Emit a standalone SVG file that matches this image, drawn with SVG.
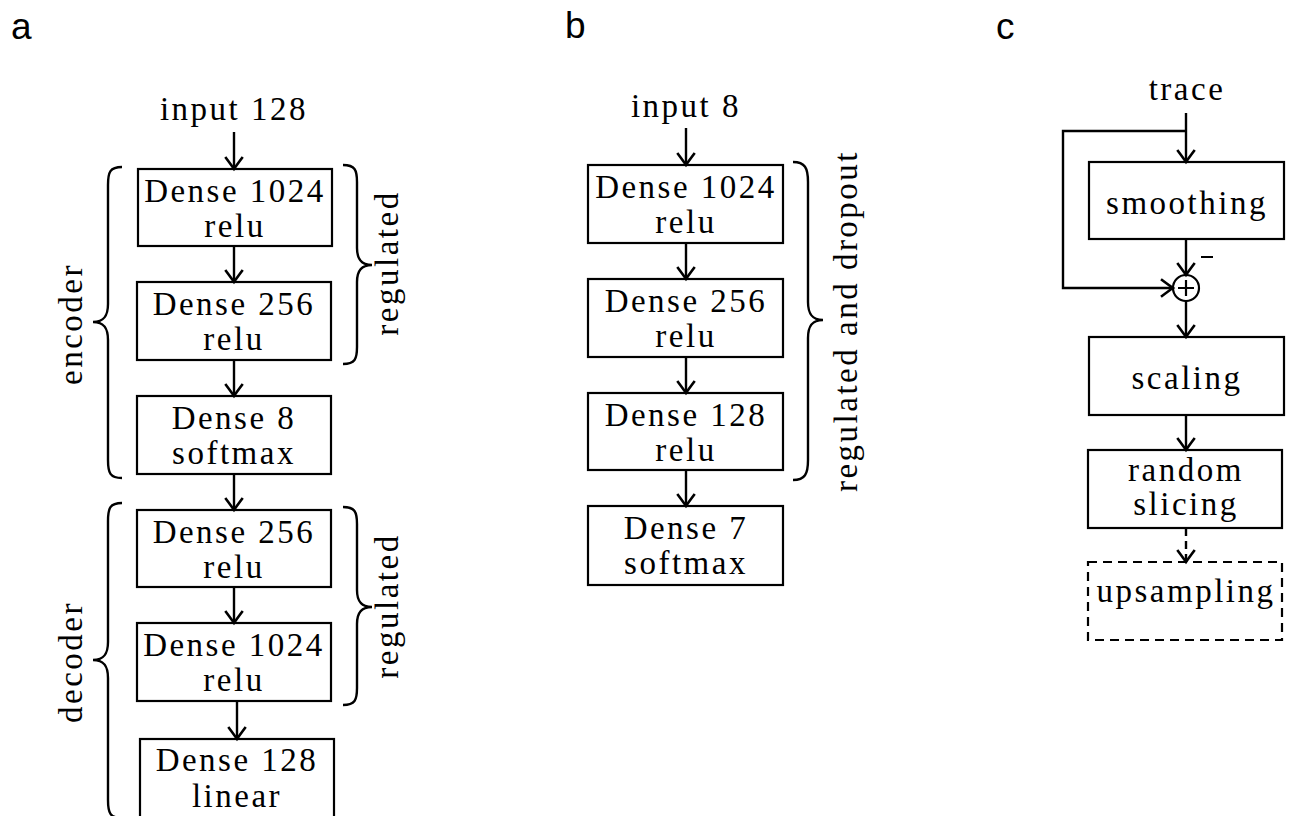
<svg xmlns="http://www.w3.org/2000/svg" width="1290" height="816" viewBox="0 0 1290 816">
<defs>
<marker id="ah" markerUnits="userSpaceOnUse" markerWidth="24" markerHeight="24" viewBox="-13 -11 16 22" refX="0" refY="0" orient="auto">
<path d="M-11,-8 Q-3,-2 0,0 Q-3,2 -11,8" fill="none" stroke="#000" stroke-width="2.4"/>
</marker>
<style>
.bx{fill:#fff;stroke:#000;stroke-width:2.2}
.dbx{fill:none;stroke:#000;stroke-width:2.2;stroke-dasharray:9 6}
.t{font-family:"Liberation Serif","Times New Roman",serif;font-size:33px;letter-spacing:2.5px;text-anchor:middle;fill:#000}
.lab{font-family:"Liberation Sans",Arial,sans-serif;font-size:37px;fill:#000}
.c{fill:none;stroke:#000;stroke-width:2.2}
.ar{fill:none;stroke:#000;stroke-width:2.4;marker-end:url(#ah)}
.br{fill:none;stroke:#000;stroke-width:2.4}
</style>
</defs>
<rect width="1290" height="816" fill="#fff"/>

<g id="labels">
<text class="lab" x="11" y="39">a</text>
<text class="lab" x="565" y="38">b</text>
<text class="lab" x="996" y="39">c</text>
</g>

<!-- Panel a -->
<g id="a-input"><text class="t" x="234" y="120">input 128</text></g>
<g id="a-enc1"><rect class="bx" x="138" y="169" width="194" height="77"/><text class="t" x="235" y="202">Dense 1024</text><text class="t" x="235" y="237">relu</text></g>
<g id="a-enc2"><rect class="bx" x="137" y="282" width="194" height="78"/><text class="t" x="234" y="315">Dense 256</text><text class="t" x="234" y="350">relu</text></g>
<g id="a-enc3"><rect class="bx" x="137" y="396" width="194" height="78"/><text class="t" x="234" y="429">Dense 8</text><text class="t" x="234" y="464">softmax</text></g>
<g id="a-dec1"><rect class="bx" x="137" y="510" width="194" height="77"/><text class="t" x="234" y="543">Dense 256</text><text class="t" x="234" y="578">relu</text></g>
<g id="a-dec2"><rect class="bx" x="137" y="623" width="194" height="78"/><text class="t" x="234" y="656">Dense 1024</text><text class="t" x="234" y="691">relu</text></g>
<g id="a-dec3"><rect class="bx" x="140" y="739" width="194" height="90"/><text class="t" x="237" y="771">Dense 128</text><text class="t" x="237" y="807">linear</text></g>

<g id="a-braces">
<path class="br" d="M122,167 C110,167 108,172 108,185 L108,304 C108,316 104,322 93,322 C104,322 108,328 108,340 L108,460 C108,473 110,478 122,478"/>
<text class="t" transform="translate(82,324) rotate(-90)" x="0" y="0">encoder</text>
<path class="br" d="M122,503 C110,503 108,508 108,521 L108,642 C108,654 104,660 93,660 C104,660 108,666 108,678 L108,800 C108,813 110,818 122,818"/>
<text class="t" transform="translate(82,662) rotate(-90)" x="0" y="0">decoder</text>
<path class="br" d="M343,165 C355,165 357,170 357,182 L357,248 C357,259 361,265 372,265 C361,265 357,271 357,282 L357,347 C357,359 355,364 343,364"/>
<text class="t" transform="translate(398,263) rotate(-90)" x="0" y="0">regulated</text>
<path class="br" d="M343,507 C355,507 357,512 357,524 L357,590 C357,601 361,607 372,607 C361,607 357,613 357,624 L357,688 C357,700 355,705 343,705"/>
<text class="t" transform="translate(398,606) rotate(-90)" x="0" y="0">regulated</text>
</g>

<!-- Panel b -->
<g id="b-input"><text class="t" x="686" y="117">input 8</text></g>
<g id="b-1"><rect class="bx" x="588" y="165" width="195" height="78"/><text class="t" x="686" y="198">Dense 1024</text><text class="t" x="686" y="233">relu</text></g>
<g id="b-2"><rect class="bx" x="588" y="279" width="195" height="78"/><text class="t" x="686" y="312">Dense 256</text><text class="t" x="686" y="347">relu</text></g>
<g id="b-3"><rect class="bx" x="588" y="393" width="195" height="77"/><text class="t" x="686" y="426">Dense 128</text><text class="t" x="686" y="461">relu</text></g>
<g id="b-4"><rect class="bx" x="588" y="506" width="195" height="79"/><text class="t" x="686" y="539">Dense 7</text><text class="t" x="686" y="574">softmax</text></g>
<g id="b-brace">
<path class="br" d="M793,162 C805,162 808,168 808,182 L808,302 C808,314 812,320 823,320 C812,320 808,326 808,338 L808,460 C808,474 805,480 793,480"/>
<text class="t" transform="translate(857,321) rotate(-90)" x="0" y="0">regulated and dropout</text>
</g>

<!-- Panel c -->
<g id="c-trace"><text class="t" x="1187" y="100">trace</text></g>
<g id="c-smoothing"><rect class="bx" x="1089" y="162" width="195" height="77"/><text class="t" x="1187" y="214">smoothing</text></g>
<g id="c-sum"><circle class="c" cx="1186" cy="288" r="13"/><path class="c" d="M1186,280 V296 M1178,288 H1194"/></g>
<g id="c-scaling"><rect class="bx" x="1089" y="337" width="195" height="78"/><text class="t" x="1187" y="389">scaling</text></g>
<g id="c-slicing"><rect class="bx" x="1088" y="450" width="194" height="78"/><text class="t" x="1186" y="481">random</text><text class="t" x="1186" y="515">slicing</text></g>
<g id="c-upsampling"><rect class="dbx" x="1088" y="562" width="194" height="78"/><text class="t" x="1186" y="602">upsampling</text></g>
<g id="c-minus"><line x1="1201" y1="257" x2="1213" y2="257" stroke="#000" stroke-width="2"/></g>

<!-- connectors -->
<g id="connectors">
<line class="ar" x1="234" y1="132" x2="234" y2="169"/>
<line class="ar" x1="234" y1="246" x2="234" y2="282"/>
<line class="ar" x1="234" y1="360" x2="234" y2="396"/>
<line class="ar" x1="234" y1="474" x2="234" y2="510"/>
<line class="ar" x1="234" y1="587" x2="234" y2="623"/>
<line class="ar" x1="237" y1="701" x2="237" y2="739"/>

<line class="ar" x1="686" y1="128" x2="686" y2="165"/>
<line class="ar" x1="686" y1="243" x2="686" y2="279"/>
<line class="ar" x1="686" y1="357" x2="686" y2="393"/>
<line class="ar" x1="686" y1="470" x2="686" y2="506"/>

<line class="ar" x1="1186" y1="113" x2="1186" y2="162"/>
<polyline class="ar" points="1186,131 1063,131 1063,288 1173,288"/>
<line class="ar" x1="1186" y1="239" x2="1186" y2="275"/>
<line class="ar" x1="1186" y1="301" x2="1186" y2="337"/>
<line class="ar" x1="1186" y1="415" x2="1186" y2="450"/>
<line class="ar" x1="1186" y1="528" x2="1186" y2="562" stroke-dasharray="8 5"/>
</g>
</svg>
